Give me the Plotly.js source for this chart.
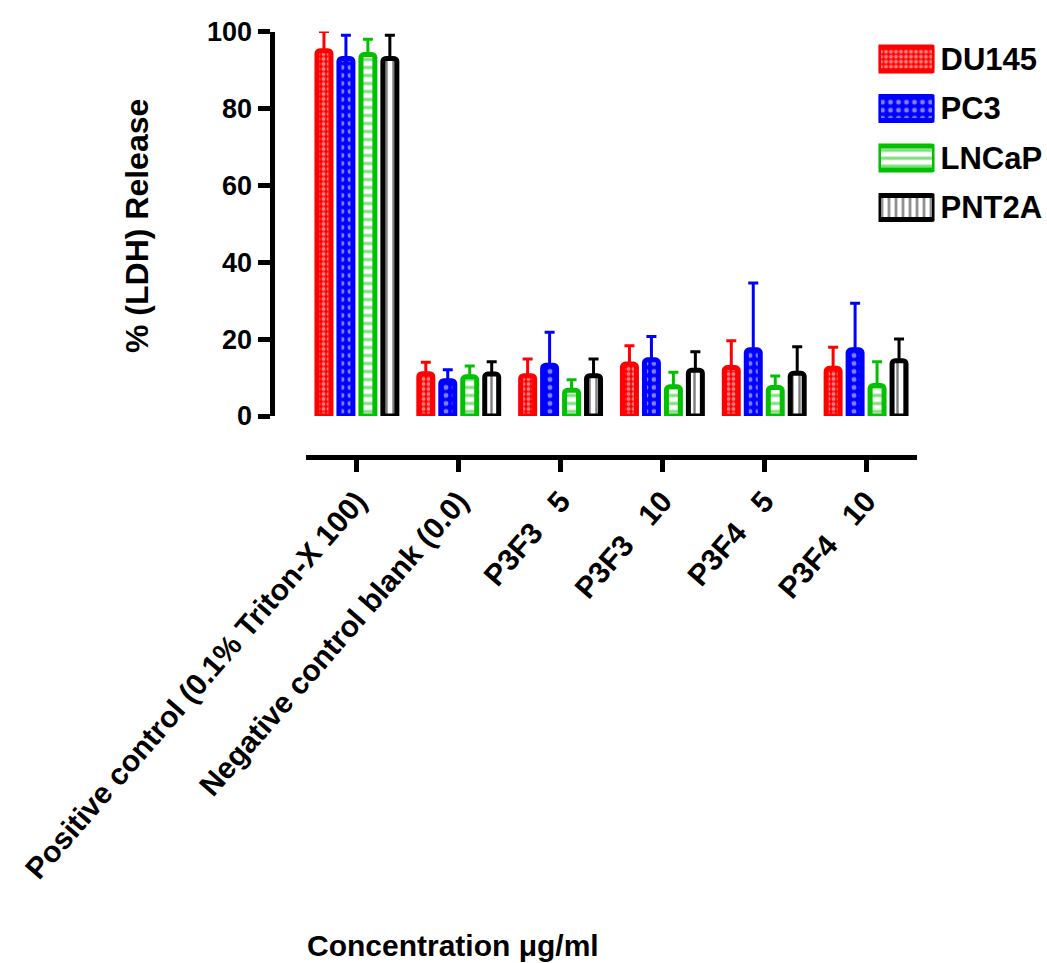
<!DOCTYPE html>
<html>
<head>
<meta charset="utf-8">
<script src="https://cdn.plot.ly/plotly-3.0.1.min.js"></script>
<style>
  html, body { margin: 0; padding: 0; background: #ffffff; }
  #chart { width: 1047px; height: 963px; }
</style>
</head>
<body>
<div id="chart"></div>
<script>
// Treatment groups along the x axis
const categories = [
  'Positive control (0.1% Triton-X 100)',
  'Negative control blank (0.0)',
  'P3F3\u00a0\u00a0\u00a05',
  'P3F3\u00a0\u00a0\u00a010',
  'P3F4\u00a0\u00a0\u00a05',
  'P3F4\u00a0\u00a0\u00a010'
];

// Cell lines
const seriesNames = ['DU145', 'PC3', 'LNCaP', 'PNT2A'];

// Mean % LDH release per cell line
const du145 = [95.0, 11.0, 10.5, 13.5, 12.6, 12.4];
const pc3   = [93.0,  9.2, 13.2, 14.6, 17.2, 17.2];
const lncap = [94.0, 10.2,  6.7,  7.6,  7.4,  7.9];
const pnt2a = [93.0, 10.9, 10.5, 11.9, 11.1, 14.4];

// Upper error (SD)
const du145Err = [5.0, 3.0, 4.3, 4.8, 7.0, 5.5];
const pc3Err   = [6.0, 2.8, 8.6, 6.1, 17.4, 12.1];
const lncapErr = [4.0, 2.8, 2.7, 3.8, 3.0, 6.2];
const pnt2aErr = [6.0, 3.2, 4.3, 4.8, 6.9, 5.6];

const yTicks = [0, 20, 40, 60, 80, 100];

// Styling for each cell line
const seriesColors = ['#ff0000', '#0000ff', '#00c000', '#000000'];
const fillColors = ['#ff0000', '#0000ff', '#ffffff', '#ffffff'];
const patternInk = ['#ffffff', '#ffffff', '#00c000', '#000000'];
const patternShapes = ['.', '.', '-', '|'];
const patternSizes = [5, 8, 8, 7];
const patternSolidity = [0.45, 0.3, 0.4, 0.35];

const W = 1047, H = 963;
const FONT = 'Liberation Sans, Arial, sans-serif';

const values = [du145, pc3, lncap, pnt2a];
const errors = [du145Err, pc3Err, lncapErr, pnt2aErr];

function markerFor(i) {
  return {
    color: fillColors[i],
    cornerradius: 3,
    line: { color: seriesColors[i], width: 5 },
    pattern: {
      shape: patternShapes[i],
      fgcolor: patternInk[i],
      bgcolor: fillColors[i],
      size: patternSizes[i],
      solidity: patternSolidity[i],
      fillmode: 'overlay'
    }
  };
}

const traces = seriesNames.map((name, i) => ({
  type: 'bar',
  name: name,
  x: categories,
  y: values[i],
  xaxis: 'x',
  yaxis: 'y',
  cliponaxis: false,
  marker: markerFor(i),
  error_y: {
    type: 'data',
    symmetric: false,
    array: errors[i],
    arrayminus: errors[i].map(() => 0),
    color: seriesColors[i],
    thickness: 3,
    width: 5
  },
  hoverinfo: 'skip'
}));

// Key: one patterned swatch per cell line, labelled by a category axis
seriesNames.forEach((name, i) => {
  traces.push({
    type: 'bar',
    orientation: 'h',
    name: name + ' key',
    y: [name],
    x: [1],
    xaxis: 'x2',
    yaxis: 'y2',
    offsetgroup: 'key',
    width: 0.485,
    cliponaxis: false,
    marker: markerFor(i),
    hoverinfo: 'skip',
    showlegend: false
  });
});

const layout = {
  width: W,
  height: H,
  margin: { l: 0, r: 0, t: 0, b: 0, pad: 0 },
  paper_bgcolor: '#ffffff',
  plot_bgcolor: 'rgba(0,0,0,0)',
  showlegend: false,
  barmode: 'group',
  bargap: 0.137,
  bargroupgap: 0.364,
  font: { family: FONT, color: '#000000', weight: 'bold' },
  xaxis: {
    type: 'category',
    categoryorder: 'array',
    categoryarray: categories,
    domain: [306 / W, 917 / W],
    range: [-0.5, 5.5],
    anchor: 'free',
    position: 1 - 456.5 / H,
    showline: true,
    linewidth: 5,
    linecolor: '#000000',
    ticks: 'outside',
    ticklen: 12,
    tickwidth: 5,
    tickcolor: '#000000',
    tickangle: -49,
    tickfont: { family: FONT, size: 30, weight: 'bold', color: '#000000' },
    showgrid: false,
    zeroline: false,
    fixedrange: true
  },
  yaxis: {
    domain: [1 - 416 / H, 1 - 31.5 / H],
    range: [0, 100],
    anchor: 'free',
    position: 271.5 / W,
    tickmode: 'array',
    tickvals: yTicks,
    ticktext: yTicks.map(String),
    showline: true,
    linewidth: 5,
    linecolor: '#000000',
    ticks: 'outside',
    ticklen: 12,
    tickwidth: 5,
    tickcolor: '#000000',
    tickfont: { family: FONT, size: 27, weight: 'bold', color: '#000000' },
    showgrid: false,
    zeroline: false,
    fixedrange: true
  },
  xaxis2: {
    domain: [878.5 / W, 934.5 / W],
    range: [0, 1],
    anchor: 'y2',
    visible: false,
    fixedrange: true
  },
  yaxis2: {
    type: 'category',
    categoryorder: 'array',
    categoryarray: seriesNames,
    domain: [1 - 232.25 / H, 1 - 34.25 / H],
    autorange: 'reversed',
    anchor: 'x2',
    side: 'right',
    showline: false,
    ticks: '',
    ticklabelstandoff: 5,
    showgrid: false,
    zeroline: false,
    tickfont: { family: FONT, size: 31, weight: 'bold', color: '#000000' },
    fixedrange: true
  },
  annotations: [
    {
      text: '% (LDH) Release',
      xref: 'paper', yref: 'paper',
      x: 137 / W, y: 1 - 226 / H,
      xanchor: 'center', yanchor: 'middle',
      textangle: -90,
      showarrow: false,
      font: { family: FONT, size: 32, weight: 'bold', color: '#000000' }
    },
    {
      text: 'Concentration \u03bcg/ml',
      xref: 'paper', yref: 'paper',
      x: 453 / W, y: 1 - 945 / H,
      xanchor: 'center', yanchor: 'middle',
      showarrow: false,
      font: { family: FONT, size: 30, weight: 'bold', color: '#000000' }
    }
  ]
};

Plotly.newPlot('chart', traces, layout, { displayModeBar: false, staticPlot: true });
</script>
</body>
</html>
